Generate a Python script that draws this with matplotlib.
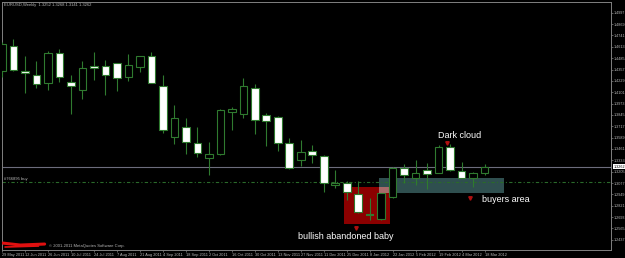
#!/usr/bin/env python3
"""EURUSD weekly candles (MetaTrader style) with pattern annotations."""

import matplotlib
matplotlib.use("Agg")
import matplotlib.pyplot as plt
from matplotlib.transforms import blended_transform_factory

plt.rcParams["font.family"] = ["Liberation Sans", "DejaVu Sans"]

# weekly OHLC, first week = 29 May 2011
OPEN = [1.4337, 1.4617, 1.4337, 1.4292, 1.4203, 1.4539, 1.4214, 1.4124, 1.4393, 1.4393,
        1.4427, 1.4270, 1.4382, 1.4505, 1.4169, 1.3598, 1.3710, 1.3531, 1.3363, 1.3408,
        1.3878, 1.3856, 1.4147, 1.3844, 1.3822, 1.3531, 1.3340, 1.3441, 1.3385, 1.3060,
        1.3072, 1.2948, 1.2730, 1.2668, 1.2915, 1.3251, 1.3139, 1.3228, 1.3195, 1.3486,
        1.3217, 1.3139, 1.3195]
HIGH = [1.4673, 1.4707, 1.4505, 1.4449, 1.4561, 1.4584, 1.4292, 1.4449, 1.4550, 1.4460,
        1.4430, 1.4528, 1.4510, 1.4550, 1.4292, 1.3956, 1.3811, 1.3710, 1.3542, 1.3912,
        1.3934, 1.4259, 1.4192, 1.3867, 1.3830, 1.3587, 1.3564, 1.3508, 1.3390, 1.3228,
        1.3105, 1.3105, 1.2904, 1.2965, 1.3255, 1.3296, 1.3340, 1.3307, 1.3508, 1.3520,
        1.3318, 1.3200, 1.3296]
LOW = [1.4270, 1.4337, 1.4091, 1.4147, 1.4124, 1.4214, 1.3856, 1.4024, 1.4236, 1.4068,
       1.4113, 1.4225, 1.4326, 1.4200, 1.3643, 1.3520, 1.3408, 1.3374, 1.3172, 1.3396,
       1.3676, 1.3811, 1.3632, 1.3497, 1.3441, 1.3240, 1.3270, 1.3307, 1.2971, 1.3015,
       1.2881, 1.2736, 1.2657, 1.2660, 1.2910, 1.3072, 1.3049, 1.3004, 1.3190, 1.3217,
       1.3128, 1.3027, 1.3172]
CLOSE = [1.4640, 1.4348, 1.4315, 1.4192, 1.4539, 1.4270, 1.4169, 1.4371, 1.4371, 1.4292,
         1.4259, 1.4404, 1.4505, 1.4203, 1.3676, 1.3811, 1.3542, 1.3419, 1.3408, 1.3900,
         1.3912, 1.4169, 1.3788, 1.3777, 1.3531, 1.3251, 1.3430, 1.3396, 1.3072, 1.3080,
         1.2971, 1.2747, 1.2720, 1.2960, 1.3251, 1.3172, 1.3195, 1.3184, 1.3486, 1.3228,
         1.3139, 1.3195, 1.3262]

X_TICK_WEEKS = list(range(0, 43, 2))
X_TICK_LABELS = ["29 May 2011", "12 Jun 2011", "26 Jun 2011", "10 Jul 2011", "24 Jul 2011",
                 "7 Aug 2011", "21 Aug 2011", "4 Sep 2011", "18 Sep 2011", "2 Oct 2011",
                 "16 Oct 2011", "30 Oct 2011", "13 Nov 2011", "27 Nov 2011", "11 Dec 2011",
                 "25 Dec 2011", "8 Jan 2012", "22 Jan 2012", "5 Feb 2012", "19 Feb 2012",
                 "4 Mar 2012", "18 Mar 2012"]
Y_TICKS = [1.2437, 1.2565, 1.2693, 1.2821, 1.2949, 1.3077, 1.3205, 1.3333, 1.3461, 1.3589,
           1.3717, 1.3845, 1.3973, 1.4101, 1.4229, 1.4357, 1.4485, 1.4613, 1.4741, 1.4869,
           1.4997]

BID = 1.3262
ORDER_PRICE = 1.3083
HEADER = "EURUSD,Weekly  1.3252 1.3268 1.3141 1.3262"

# annotation objects: (week_left, week_right, price_low, price_high)
BABY_BOX = (29.78, 33.78, 1.2612, 1.3027)
BUYERS_BOX = (32.83, 43.70, 1.2960, 1.3139)
ARROWS_X = [38.74, 40.74, 30.83]
ARROWS_Y = [1.3531, 1.2904, 1.2568]

GREEN = "#2f7a2f"
GRAY = "#808080"
TEXT_GRAY = "#b8b8b8"


def main():
    fig = plt.figure(figsize=(6.25, 2.58), dpi=100, facecolor="black")
    ax = fig.add_axes([2 / 625, 8 / 258, 609 / 625, 248 / 258])
    ax.set_facecolor("black")

    # background objects
    for (x0, x1, y0, y1), col in ((BABY_BOX, "#8b0000"), (BUYERS_BOX, "#2f4f4f")):
        ax.add_patch(plt.Rectangle((x0, y0), x1 - x0, y1 - y0, color=col, lw=0, zorder=1))
    ox0, ox1 = max(BABY_BOX[0], BUYERS_BOX[0]), min(BABY_BOX[1], BUYERS_BOX[1])
    oy0, oy1 = max(BABY_BOX[2], BUYERS_BOX[2]), min(BABY_BOX[3], BUYERS_BOX[3])
    ax.add_patch(plt.Rectangle((ox0, oy0), ox1 - ox0, oy1 - oy0, color="#a86a6a", lw=0, zorder=1))

    ax.axhline(BID, color="#6c6c7c", lw=0.8, zorder=2)
    ax.axhline(ORDER_PRICE, color="#2a6a2a", lw=0.8, ls=(0, (3, 2, 1, 2)), zorder=2)
    ax.text(0.2, ORDER_PRICE + 0.0012, "#766895 buy", color=TEXT_GRAY, fontsize=3.0,
            va="bottom", ha="left", zorder=5)

    # candles
    for i, (o, h, l, c) in enumerate(zip(OPEN, HIGH, LOW, CLOSE)):
        ax.vlines(i, l, h, color=GREEN, lw=0.8, zorder=3)
        lo, hi = min(o, c), max(o, c)
        ax.bar(i, max(hi - lo, 0.0008), bottom=lo, width=0.66,
               color="white" if c < o else "black", edgecolor=GREEN, linewidth=0.8, zorder=4)

    ax.plot(ARROWS_X, ARROWS_Y, ls="none", marker="v", ms=2.5, color="#b01010", zorder=5)

    ann = dict(color="white", fontsize=6.5, va="center", ha="left", zorder=6)
    ax.text(37.96, 1.3609, "Dark cloud", **ann)
    ax.text(41.78, 1.2892, "buyers area", **ann)
    ax.text(25.78, 1.2478, "bullish abandoned baby", **ann)

    ax.text(0.004, 0.994, HEADER, transform=ax.transAxes, color=TEXT_GRAY, fontsize=3.0,
            va="top", ha="left")

    # redacted strip and copyright
    ax.plot([0.001, 0.03, 0.07], [0.028, 0.02, 0.024], transform=ax.transAxes,
            color="#e01010", lw=2.2, solid_capstyle="round", zorder=6)
    ax.plot([0.005, 0.06], [0.012, 0.016], transform=ax.transAxes,
            color="#e01010", lw=1.2, solid_capstyle="round", zorder=6)
    ax.text(0.077, 0.018, "\u00a9 2001-2011 MetaQuotes Software Corp.", transform=ax.transAxes,
            color=TEXT_GRAY, fontsize=3.0, va="center", ha="left", zorder=6)

    ax.set_xlim(0.043, 53.0)
    ax.set_ylim(1.23212, 1.51188)

    ax.set_xticks(X_TICK_WEEKS)
    ax.set_xticklabels(X_TICK_LABELS, fontsize=2.8, ha="left")
    ax.yaxis.tick_right()
    ax.set_yticks(Y_TICKS)
    ax.set_yticklabels([f"{v:.4f}" for v in Y_TICKS], fontsize=2.7)
    ax.tick_params(axis="both", colors=GRAY, length=1.5, width=0.5, pad=0.5)
    for label in ax.get_xticklabels() + ax.get_yticklabels():
        label.set_color(TEXT_GRAY)
    for spine in ax.spines.values():
        spine.set_color(GRAY)
        spine.set_linewidth(0.7)

    trans = blended_transform_factory(ax.transAxes, ax.transData)
    ax.text(1.004, BID, f"{BID:.4f}", transform=trans, fontsize=2.7, color="black",
            va="center", ha="left", bbox=dict(boxstyle="square,pad=0.1", fc="white", ec="none"))

    fig.savefig("out.png", dpi=100, facecolor="black")


if __name__ == "__main__":
    main()
